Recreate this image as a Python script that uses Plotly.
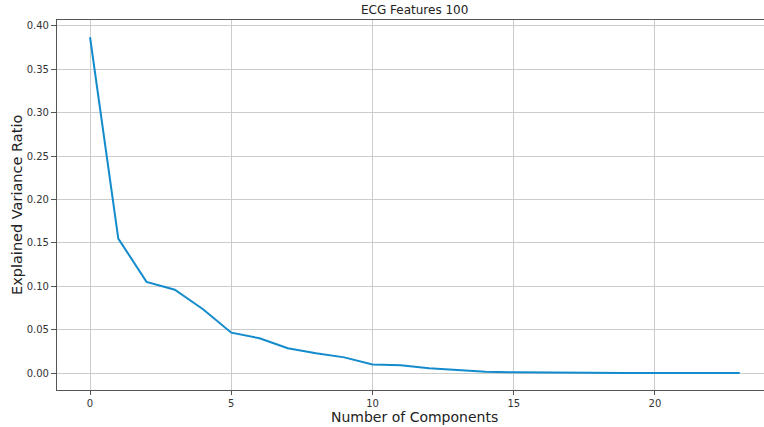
import plotly.graph_objects as go

components = list(range(24))
explained_variance = [0.387, 0.155, 0.105, 0.096, 0.0735, 0.0465, 0.040, 0.0285, 0.0228, 0.018,
                      0.0097, 0.0090, 0.0054, 0.0030, 0.0014, 0.0009, 0.0005, 0.0002,
                      0.0001, 0.0001, 0.0001, 0.00005, 0.00003, 0.00001]
x_ticks = [0, 5, 10, 15, 20]
y_ticks = [0.0, 0.05, 0.10, 0.15, 0.20, 0.25, 0.30, 0.35, 0.40]
y_tick_labels = [f"{v:.2f}" for v in y_ticks]

font_family = "DejaVu Sans"
fig = go.Figure()
fig.add_trace(go.Scatter(x=components, y=explained_variance, mode="lines",
                         line=dict(color="#138bcc", width=2), showlegend=False))

fig.update_layout(
    width=764, height=427,
    margin=dict(l=57, r=0, t=20, b=37),
    paper_bgcolor="white", plot_bgcolor="white",
    font=dict(family=font_family, color="#333333", size=10),
    xaxis=dict(range=[-1.17, 23.86], tickvals=x_ticks, ticks="outside", ticklen=4,
               tickcolor="#555555", showline=True, linecolor="#555555", linewidth=1.2,
               mirror=True, showgrid=True, gridcolor="#cccccc", gridwidth=1,
               zeroline=False, tickfont=dict(size=10, color="#333333")),
    yaxis=dict(range=[-0.0196, 0.4069], tickvals=y_ticks, ticktext=y_tick_labels,
               ticks="outside", ticklen=5, tickcolor="#555555", showline=True,
               linecolor="#555555", linewidth=1.2, showgrid=True, gridcolor="#cccccc",
               gridwidth=1, zeroline=False, tickfont=dict(size=10, color="#333333")),
    annotations=[
        dict(text="ECG Features 100", x=0.5057, y=1, xref="paper", yref="paper",
             yshift=10, showarrow=False, font=dict(size=12, color="#222222"),
             yanchor="middle"),
        dict(text="Number of Components", x=0.5057, y=0, xref="paper", yref="paper",
             yshift=-27, showarrow=False, font=dict(size=14, color="#222222"),
             yanchor="middle"),
        dict(text="Explained Variance Ratio", x=0, y=0.5, xref="paper", yref="paper",
             xshift=-40, textangle=-90, showarrow=False,
             font=dict(size=14.5, color="#222222"), xanchor="center"),
    ],
)
fig.write_html("out.html")
